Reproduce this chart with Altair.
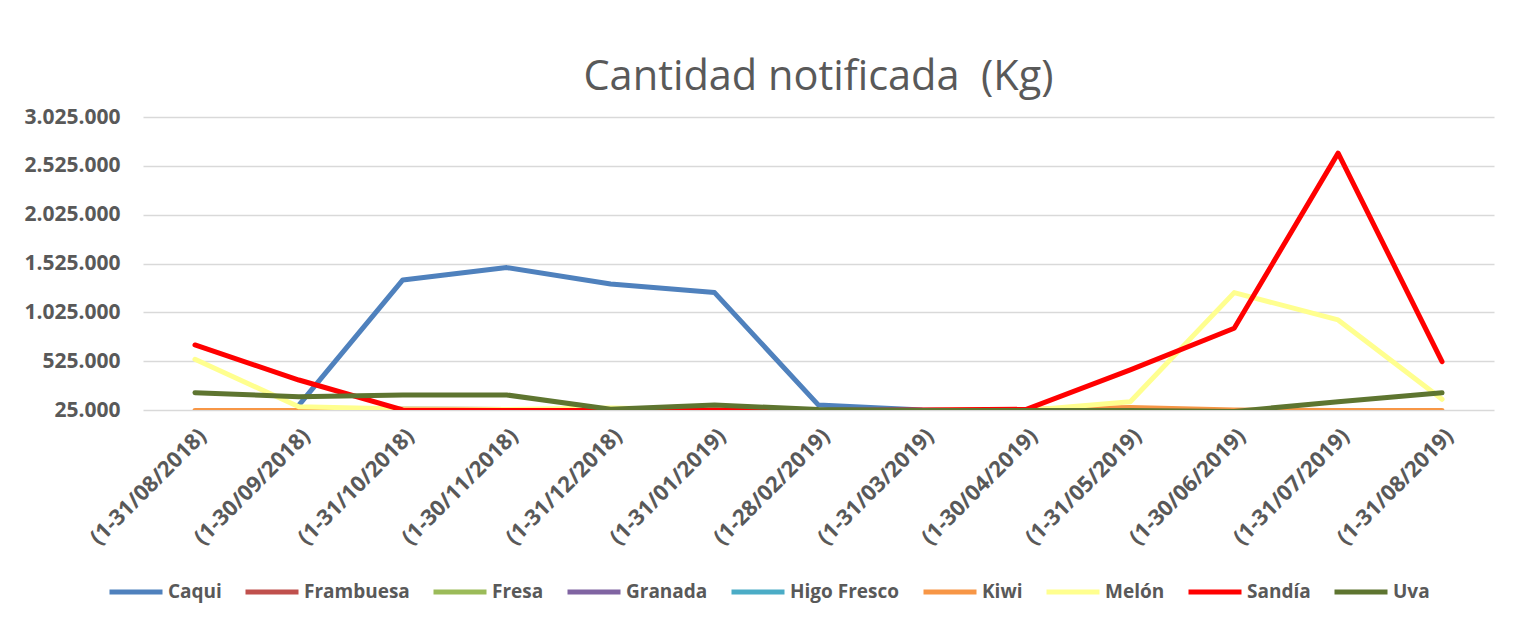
import altair as alt
import pandas as pd

months = ["(1-31/08/2018)", "(1-30/09/2018)", "(1-31/10/2018)", "(1-30/11/2018)",
          "(1-31/12/2018)", "(1-31/01/2019)", "(1-28/02/2019)", "(1-31/03/2019)",
          "(1-30/04/2019)", "(1-31/05/2019)", "(1-30/06/2019)", "(1-31/07/2019)",
          "(1-31/08/2019)"]

series_names = ["Caqui", "Frambuesa", "Fresa", "Granada", "Higo Fresco", "Kiwi",
                "Melón", "Sandía", "Uva"]
series_colors = ["#4F81BD", "#C0504D", "#9BBB59", "#8064A2", "#4BACC6", "#F79646",
                 "#FFFF8F", "#FF0000", "#5E7530"]

caqui = [None, 75000, 1357000, 1483000, 1316000, 1227000, 75000, 25000, 5000, 5000, 5000, 5000, 5000]
frambuesa = [8000, 6000, 4000, 3000, 2000, 3000, 5000, 8000, 10000, 10000, 8000, 6000, 5000]
fresa = [2000, 2000, 3000, 4000, 6000, 9000, 12000, 12000, 10000, 6000, 3000, 2000, 2000]
granada = [2000, 10000, 35000, 30000, 10000, 3000, 1000, 0, 0, 0, 0, 0, 2000]
higo = [8000, 6000, 2000, 0, 0, 0, 0, 0, 0, 1000, 3000, 6000, 8000]
kiwi = [20000, 20000, 20000, 20000, 20000, 20000, 20000, 20000, 30000, 50000, 25000, 20000, 20000]
melon = [544000, 59000, 35000, 30000, 45000, 25000, 20000, 15000, 20000, 110000, 1227000, 947000, 135000]
sandia = [691000, 332000, 25000, 20000, 20000, 25000, 20000, 25000, 32000, 435000, 862000, 2655000, 520000]
uva = [202000, 161000, 179000, 179000, 32000, 76000, 30000, 20000, 20000, 20000, 10000, 110000, 202000]

values = [caqui, frambuesa, fresa, granada, higo, kiwi, melon, sandia, uva]

rows = []
for si, (name, vals) in enumerate(zip(series_names, values)):
    for mi, (m, v) in enumerate(zip(months, vals)):
        if v is None:
            continue
        rows.append({"Serie": name, "Mes": m, "Kg": v, "s": si, "m": mi})
df = pd.DataFrame(rows)

y_ticks = [25000, 525000, 1025000, 1525000, 2025000, 2525000, 3025000]

FONT = "Open Sans"
GREY = "#595959"

chart = alt.Chart(df).mark_line(
    clip=True, strokeWidth=5, strokeCap="round", strokeJoin="round"
).encode(
    x=alt.X("Mes:O", sort=months, title=None,
            scale=alt.Scale(type="point", padding=0.5),
            axis=alt.Axis(labelAngle=-45, labelFontSize=22, labelFontWeight="bold",
                          labelColor=GREY, labelFont=FONT, ticks=False, domain=False,
                          labelPadding=15, grid=False)),
    y=alt.Y("Kg:Q", title=None,
            scale=alt.Scale(domain=[25000, 3025000], nice=False, zero=False),
            axis=alt.Axis(values=y_ticks, format=",d", labelFontSize=21,
                          labelFontWeight="bold", labelColor=GREY, labelFont=FONT,
                          ticks=False, domain=False, labelPadding=23,
                          gridColor="#D9D9D9", gridWidth=1.5)),
    color=alt.Color("Serie:N", sort=series_names,
                    scale=alt.Scale(domain=series_names, range=series_colors),
                    legend=alt.Legend(orient="none", legendX=-36, legendY=446,
                                      direction="horizontal", columns=9, title=None,
                                      symbolType="stroke", symbolSize=2809,
                                      symbolStrokeWidth=5, labelFontSize=19,
                                      labelFontWeight="bold", labelColor=GREY,
                                      labelFont=FONT, labelOffset=3,
                                      columnPadding=13, padding=0)),
    order=alt.Order("m:Q"),
    detail="s:O",
).properties(
    width=1351,
    height=293,
    title=alt.TitleParams("Cantidad notificada\u00a0 (Kg)", fontSize=41.5,
                          fontWeight="normal", color=GREY, font=FONT,
                          anchor="middle", offset=8),
    autosize=alt.AutoSizeParams(type="none"),
    padding={"left": 135, "top": 109, "right": 10, "bottom": 195},
).configure(
    locale={"number": {"decimal": ",", "thousands": ".", "grouping": [3],
                       "currency": ["", " €"]}}
).configure_view(stroke=None)

chart.save("out.html", embed_options={"renderer": "svg", "actions": False})
